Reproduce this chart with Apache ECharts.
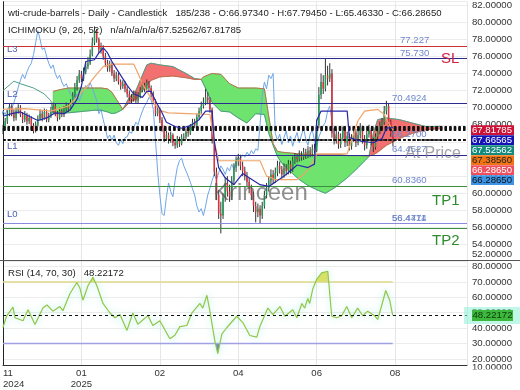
<!DOCTYPE html>
<html><head><meta charset="utf-8">
<script src="https://cdn.jsdelivr.net/npm/echarts/dist/echarts.min.js"></script>
<style>html,body{margin:0;padding:0;background:#fff}#c{width:520px;height:390px}</style>
</head><body><div id="c"></div><script>
const FONT = "'Liberation Sans', Arial, sans-serif";
const FS = 9.6;
// ---- x axis tick labels (one every TICK_STEP bars) ----
const tickLabels = ['11\n2024', '01\n2025', '02', '04', '06', '08'];
const TICK_STEP = 36;
// ---- candles (bar index = array index) ----
const C = [
67.6,68.4,69.3,70.1,69.4,68.8,69.6,
70.0,69.2,68.6,69.1,68.4,68.8,67.9,67.3,
68.0,68.7,69.3,68.8,69.5,68.6,69.0,69.7,70.2,69.3,68.8,69.6,
69.2,69.8,70.2,69.9,70.6,71.4,72.4,
73.2,73.9,73.4,74.2,74.8,75.2,
76.2,77.6,79.0,78.0,76.8,
77.0,76.0,75.2,74.6,75.0,74.0,73.4,
73.8,73.0,72.5,72.8,72.2,71.6,
71.2,71.0,71.6,70.8,71.4,
72.0,72.6,72.2,72.9,72.3,71.6,
70.8,69.3,69.8,68.6,67.6,66.4,66.8,
66.2,66.8,65.9,65.6,66.3,65.8,66.5,
66.6,67.2,67.0,67.7,68.3,68.0,68.9,69.6,70.2,
70.6,71.2,70.9,69.8,
66.2,62.5,59.8,57.6,57.4,59.5,61.2,60.2,59.6,61.5,63.0,
63.8,64.1,63.2,62.6,62.0,61.3,60.5,
59.8,58.5,57.8,58.2,57.4,
58.5,59.8,60.6,61.5,62.2,61.6,62.4,63.2,62.8,
62.2,63.0,62.6,63.4,62.8,63.8,64.2,
64.0,64.5,64.2,64.8,64.4,65.0,64.6,65.2,65.0,
68.0,71.5,73.0,72.2,73.8,73.4,74.0,
67.0,
66.2,66.9,65.7,66.5,67.3,65.9,66.7,65.5,66.4,
67.1,65.9,66.8,67.6,66.3,65.6,66.9,67.4,66.1,65.4,
66.6,67.2,67.9,68.3,
69.6,70.2,68.4,
66.9734,66.2865];
const H = [
68.0,68.8,69.7,70.5,70.4,69.8,70.0,
70.4,70.3,69.5,69.6,69.4,69.2,69.0,68.2,
68.4,69.1,69.8,69.6,69.9,69.8,69.4,70.1,70.6,70.5,69.6,70.0,
69.9,70.2,70.6,70.5,71.0,71.8,72.9,
73.7,74.4,74.3,74.7,75.3,75.9,
76.8,78.2,79.5,79.2,78.2,
77.6,77.3,76.4,75.6,75.5,75.3,74.4,
74.2,74.1,73.3,73.2,73.1,72.5,
72.0,71.6,72.0,71.9,71.8,
72.4,73.0,72.9,73.3,73.1,72.6,
71.9,71.0,70.2,70.0,68.9,67.9,67.3,
67.1,67.2,67.0,66.3,66.7,66.6,66.9,
67.0,67.6,67.6,68.1,68.7,68.7,69.3,70.0,70.7,
71.2,72.2,71.8,71.2,
70.0,66.4,63.0,60.4,59.0,60.0,61.8,62.0,61.0,62.0,63.5,
64.3,64.6,64.5,63.7,63.1,62.5,61.8,
61.0,60.2,59.0,58.8,58.6,
59.0,60.3,61.2,62.0,62.8,62.7,63.0,63.8,63.7,
63.2,63.5,63.4,63.9,63.8,64.3,64.7,
64.6,65.0,64.9,65.3,65.2,65.5,65.4,65.7,65.8,
68.6,72.4,74.0,73.8,75.7,74.9,75.2,
74.5,
67.6,67.5,67.2,67.0,67.8,67.6,67.2,67.0,66.9,
67.8,67.5,67.4,68.2,67.9,66.8,67.3,68.0,67.7,66.5,
67.0,67.7,68.4,68.8,
70.2,70.8,70.5,
68.6,67.7945];
const L = [
66.9,67.3,68.1,69.0,69.0,68.4,68.5,
69.3,68.9,68.2,68.3,68.0,68.1,67.5,67.0,
67.1,67.8,68.5,68.4,68.6,68.3,68.3,68.8,69.4,69.0,68.4,68.6,
68.9,68.9,69.5,69.5,69.7,70.4,71.2,
72.0,72.9,73.0,73.1,73.9,74.5,
75.0,76.0,77.3,77.6,76.4,
76.3,75.6,74.8,74.2,74.2,73.7,73.0,
73.1,72.7,72.1,72.2,71.8,71.2,
70.8,70.5,70.7,70.5,70.5,
71.1,71.8,71.8,72.0,71.9,71.2,
70.4,69.0,69.0,68.2,67.2,66.0,66.1,
65.8,65.9,65.5,65.2,65.3,65.4,65.6,
66.1,66.3,66.6,66.8,67.4,67.6,67.8,68.6,69.3,
69.9,70.3,70.4,69.4,
65.8,62.0,59.2,57.0,55.3,57.0,59.0,59.6,59.0,59.2,61.0,
62.5,63.2,62.7,62.0,61.5,60.7,60.0,
59.2,57.8,56.6,57.2,56.5,
57.0,58.2,59.4,60.2,61.0,61.1,61.2,62.0,62.3,
61.7,61.8,62.1,62.2,62.3,62.5,63.4,
63.6,63.7,63.8,63.9,64.0,64.1,64.2,64.3,64.6,
64.8,67.6,71.0,71.6,71.9,72.6,73.0,
66.5,
65.7,65.8,65.2,65.3,66.1,65.4,65.5,65.0,65.1,
66.0,65.4,65.6,66.4,65.8,65.0,65.2,66.5,65.6,64.8,
65.1,66.3,66.9,67.5,
68.0,69.2,68.0,
66.6,65.4633];
const FIRST_OPEN = 67.3;
const O = [FIRST_OPEN].concat(C.slice(0, -1));   // each open = previous close
const CHIKOU_SHIFT = 26;
// ---- ichimoku lines: [bar, value] ----
const tenkan = [[0,69.0],[4,69.3],[8,69.5],[12,69.0],[16,68.5],[20,68.8],[24,69.4],[28,69.3],[31,69.8],[34,71.0],[36,72.5],[38,75.4],[42,75.6],[44,76.4],[46,77.0],[48,76.4],[50,75.4],[52,74.6],[55,73.4],[57,72.6],[60,71.6],[64,71.2],[66,71.9],[68,71.9],[70,70.8],[73,69.4],[75,68.3],[79,67.8],[82,67.6],[86,67.9],[90,68.6],[93,69.6],[96,69.6],[97,66.0],[99,63.0],[102,61.8],[106,61.0],[110,62.3],[113,61.8],[118,61.0],[122,60.8],[125,61.3],[130,62.2],[135,63.3],[140,63.0],[143,63.4],[144,68.5],[146,69.6],[158,69.6],[159,66.5],[164,66.1],[170,65.9],[174,66.4],[176,67.6],[179,67.67]];
const kijun = [[0,69.8],[10,69.9],[22,69.6],[30,70.2],[35,71.5],[38,72.3],[42,73.6],[46,74.8],[50,75.1],[60,75.1],[62,74.0],[64,72.8],[67,71.5],[70,70.3],[73,69.6],[76,69.4],[85,69.3],[95,69.2],[97,66.0],[99,63.8],[118,63.8],[121,62.0],[125,61.6],[135,61.6],[138,62.2],[141,63.0],[144,64.6],[158,64.6],[160,66.2],[163,68.5],[166,69.6],[172,69.8],[175,69.2],[177,68.2],[179,67.39]];
const spanAPre = [[0,72.0],[5,73.1],[8,72.8],[14,72.3],[19,71.6],[22,70.8],[23,69.3]];
const cloudX = [23,26,30,34,38,42,45,48,50,52,55,58,61,64,66,68,72,78,84,88,91,92,96,100,104,108,112,116,120,122,124,126,128,132,136,140,145,148,152,155,158,163,168,170,172,176,182,188,194,198,201];
const spanB  = [71.9,72.1,72.3,72.3,72.3,72.3,72.3,72.2,71.8,71.0,69.8,70.6,71.0,72.0,72.6,73.2,73.6,73.7,73.5,73.3,73.3,73.6,74.0,73.9,72.8,72.3,72.3,72.3,72.2,69.0,65.8,64.9,64.8,64.7,64.6,64.5,64.5,64.5,64.5,64.5,64.4,64.4,64.35,64.5,64.8,65.6,66.4,67.0,67.4,67.5,67.53];
const spanA  = [69.3,69.3,69.4,69.5,69.6,69.7,69.7,69.5,69.3,69.4,69.8,71.2,72.0,73.8,75.0,75.2,75.0,74.8,74.0,73.4,73.3,72.8,70.6,69.6,69.5,68.8,68.2,69.3,69.2,67.0,65.6,64.3,63.5,62.5,61.6,60.9,60.3,60.0,60.6,61.2,61.8,63.0,64.3,67.0,68.6,68.8,68.6,68.2,67.8,67.8,67.82];
// ---- RSI: [bar, value] ----
const rsi = [[0,40.4],[1.7,48],[4.6,53.6],[5.5,46.7],[9.2,44.8],[11.5,51.9],[14.7,42.3],[18.3,53],[20.2,55],[22.9,51],[26.1,54],[27.5,51.3],[30.7,62.3],[33.9,69.6],[35.3,66],[36.7,58.1],[39,67.5],[41.3,73],[43.1,67.5],[45.9,56],[49.1,49.8],[51.4,46.7],[53.7,48.8],[56.9,38.5],[59.6,49.8],[61.9,42.5],[66.5,48.1],[68.8,41.7],[72,44.8],[76.6,33.1],[78.9,35.4],[81.2,41],[84.4,41.7],[86.7,49.8],[90.4,56],[91.7,53],[93.6,61.3],[95,50.9],[97.2,32.1],[98.6,23.4],[100.5,36.3],[102.8,40.4],[107.3,47.7],[110.1,43.6],[113.3,35.2],[116.5,34.2],[117.9,41],[121.6,53],[123.9,48.8],[127.1,54],[129.4,47.7],[133,51.9],[134.9,46.7],[137.2,56],[138.5,53],[139.9,59.2],[140.8,56],[142.2,65.4],[144,71.7],[146.3,75.9],[149.1,76.9],[150.9,47.7],[153.2,46.7],[155.5,48],[157.8,54],[160.1,46.7],[162.8,53],[165.1,48],[167.4,51],[170.6,48],[172,45.6],[173.9,55],[175.7,64.4],[177.5,58.1],[178.9,48.22172]];
const RSI_HI = 70, RSI_LO = 30, RSI_LAST = 48.22172;
// ---- levels ----
const levelValues = [77.227, 75.730, 70.4924, 64.4527, 60.836, 56.4711, 56.4474, 55.88];
const levelTexts  = ['77.227','75.730','70.4924','64.4527','60.8360','56.4711','56.4474',''];
const levelTags   = ['', 'L3', 'L2', 'L1', '', 'L0', '', ''];
const atPrice = 66.27, atPriceText = '66.2700';
const priceLines = [67.81785, 67.66565, 67.52562, 67.38560, 66.2865];
const boxTexts = ['67.81785','67.66565','67.52562','67.38560','66.28650','66.28650'];
const header1 = 'wti-crude-barrels - Daily - Candlestick   185/238 - O:66.97340 - H:67.79450 - L:65.46330 - C:66.28650';
const header2 = 'ICHIMOKU (9, 26, 52)   n/a/n/a/n/a/67.52562/67.81785';
const rsiTitle = 'RSI (14, 70, 30)   48.22172';

// ---- styles ----
const levelColors = ['#d23030','#2b2b8f','#2b2b8f','#2b2b8f','#3c8f3c','#2b2b8f','#8a8ae0','#3c8f3c'];
const boxBg = ['#cc1236','#1414b4','#138a7c','#f07412','#f0505e','#3b94e6'];
const boxFg = ['#fff','#fff','#fff','#222','#fff','#111'];

function cloudPolys(xs, up, lo){
  const X=[],U=[],D=[];
  for(let k=0;k<xs.length;k++){
    X.push(xs[k]);U.push(up[k]);D.push(lo[k]);
    if(k<xs.length-1){
      const d0=up[k]-lo[k], d1=up[k+1]-lo[k+1];
      if(d0*d1<0){const t=d0/(d0-d1);X.push(xs[k]+t*(xs[k+1]-xs[k]));const vc=lo[k]+t*(lo[k+1]-lo[k]);U.push(vc);D.push(vc);}
    }
  }
  const runs=[];
  for(let j=0;j<X.length-1;j++){
    const s=Math.sign((U[j]+U[j+1])-(D[j]+D[j+1]));
    const last=runs[runs.length-1];
    if(last&&last.s===s) last.b=j+1; else runs.push({s,a:j,b:j+1});
  }
  return runs.filter(r=>r.s!==0).map(r=>{const pts=[];for(let i=r.a;i<=r.b;i++)pts.push([X[i],U[i]]);for(let i=r.b;i>=r.a;i--)pts.push([X[i],D[i]]);return {s:r.s,pts};});
}
function zonePolys(pts, lvl, dir){
  const X=[],V=[];
  for(let k=0;k<pts.length;k++){
    X.push(pts[k][0]);V.push(pts[k][1]);
    if(k<pts.length-1){
      const d0=pts[k][1]-lvl,d1=pts[k+1][1]-lvl;
      if(d0*d1<0){const t=d0/(d0-d1);X.push(pts[k][0]+t*(pts[k+1][0]-pts[k][0]));V.push(lvl);}
    }
  }
  const polys=[];let cur=null;
  for(let j=0;j<X.length-1;j++){
    const inside=dir*((V[j]+V[j+1])/2-lvl)>0;
    if(inside){ if(!cur){cur=[[X[j],V[j]]];} cur.push([X[j+1],V[j+1]]); }
    else if(cur){ polys.push(cur);cur=null; }
  }
  if(cur)polys.push(cur);
  return polys.map(p=>p.concat([[p[p.length-1][0],lvl],[p[0][0],lvl]]));
}
const clouds = cloudPolys(cloudX, spanB, spanA);
const rsiHiZones = zonePolys(rsi, RSI_HI, 1);
const rsiLoZones = zonePolys(rsi, RSI_LO, -1);

const chart = echarts.init(document.getElementById('c'), null, {renderer:'canvas'});
const XMAX = 213;
const gridLine = {show:true, lineStyle:{color:'#e6e6e6', width:1}};
const xBase = {type:'value', min:0, max:XMAX, interval:TICK_STEP, axisTick:{show:false}, splitLine:gridLine};
const option = {
  animation:false,
  grid:[{left:3, top:0, width:464, height:261.7},{left:3, top:261, width:464, height:108}],
  xAxis:[
    Object.assign({gridIndex:0, axisLine:{show:false}, axisLabel:{show:false}}, xBase),
    Object.assign({gridIndex:1, axisLine:{show:true, lineStyle:{color:'#333', width:1}},
      axisLabel:{show:true, color:'#333', fontSize:FS, fontFamily:FONT, lineHeight:11, margin:3, alignMinLabel:'left', showMaxLabel:false,
        formatter:v=>{const k=Math.round(v/TICK_STEP);return (Math.abs(v-k*TICK_STEP)<1e-6 && tickLabels[k])?tickLabels[k]:'';}}}, xBase)
  ],
  yAxis:[
    {type:'value', gridIndex:0, position:'right', min:52, max:82.39, interval:2,
      axisLine:{show:true, lineStyle:{color:'#222'}}, axisTick:{show:false}, splitLine:{show:true, lineStyle:{color:'#ececec'}},
      axisLabel:{color:'#333', fontSize:FS, fontFamily:FONT, margin:5, showMinLabel:false,
        formatter:v=>(Math.abs(v/2-Math.round(v/2))<1e-6 && v>52.5)?v.toFixed(5):''}},
    {type:'value', gridIndex:1, position:'right', min:16.06, max:83.56, splitNumber:7,
      axisLine:{show:true, lineStyle:{color:'#222'}}, axisTick:{show:false}, splitLine:{show:true, lineStyle:{color:'#ececec'}},
      axisLabel:{color:'#333', fontSize:FS, fontFamily:FONT, margin:5,
        formatter:v=>(Math.abs(v/10-Math.round(v/10))<1e-6 && v>=20 && v<=80)?v.toFixed(5):''}}
  ],
  series:[
    {type:'custom', name:'cloud', xAxisIndex:0, yAxisIndex:0, z:1, silent:true, data:[[0,60]], encode:{x:0,y:1},
      renderItem:(params,api)=>({type:'group', children:clouds.map(p=>({type:'polygon',
        shape:{points:p.pts.map(pt=>api.coord(pt))},
        style:{fill:p.s>0?'#6ee46e':'#f27070', stroke:p.s>0?'#55c455':'#dd5a5a', lineWidth:0.6}}))})},
    {type:'line', name:'levels', xAxisIndex:0, yAxisIndex:0, z:2, data:[[0,null]], symbol:'none', silent:true, lineStyle:{opacity:0},
      markLine:{symbol:['none','none'], silent:true, animation:false, label:{show:false},
        data:levelValues.map((v,i)=>({yAxis:v, lineStyle:{color:levelColors[i], width:1.2, type:'solid'}}))}},
    {type:'line', name:'chikou', xAxisIndex:0, yAxisIndex:0, z:3, symbol:'none', silent:true, clip:true,
      data:C.map((c,i)=>[i-CHIKOU_SHIFT,c]).filter(d=>d[0]>=-1), lineStyle:{color:'#6ea6e6', width:1}},
    {type:'line', name:'spanA', xAxisIndex:0, yAxisIndex:0, z:3, symbol:'none', silent:true,
      data:spanAPre.concat(cloudX.map((x,i)=>[x,spanA[i]]).slice(1)), lineStyle:{color:'#4f9e86', width:1}},
    {type:'line', name:'spanB', xAxisIndex:0, yAxisIndex:0, z:3, symbol:'none', silent:true,
      data:cloudX.map((x,i)=>[x,spanB[i]]), lineStyle:{color:'#b9734f', width:1}},
    {type:'custom', name:'candles', xAxisIndex:0, yAxisIndex:0, z:4, silent:true,
      data:C.map((c,i)=>[i,O[i],c,L[i],H[i]]), encode:{x:0,y:[1,2,3,4]},
      renderItem:(params,api)=>{
        const x=api.value(0),o=api.value(1),c=api.value(2),l=api.value(3),h=api.value(4);
        const pO=api.coord([x,o]),pC=api.coord([x,c]),pL=api.coord([x,l]),pH=api.coord([x,h]);
        const w=1.5, up=c>=o;
        return {type:'group', children:[
          {type:'line', shape:{x1:pH[0],y1:pH[1],x2:pL[0],y2:pL[1]}, style:{stroke:'#333', lineWidth:1}},
          {type:'rect', shape:{x:pO[0]-w/2, y:Math.min(pO[1],pC[1]), width:w, height:Math.max(1,Math.abs(pO[1]-pC[1]))}, style:{fill:up?'#1f9d55':'#e0303c'}}
        ]};
      }},
    {type:'line', name:'kijun', xAxisIndex:0, yAxisIndex:0, z:5, symbol:'none', silent:true, data:kijun, lineStyle:{color:'#f0a46a', width:1.2}},
    {type:'line', name:'tenkan', xAxisIndex:0, yAxisIndex:0, z:5, symbol:'none', silent:true, data:tenkan, lineStyle:{color:'#2828a8', width:1.2}},
    {type:'line', name:'prices', xAxisIndex:0, yAxisIndex:0, z:6, data:[[0,null]], symbol:'none', silent:true, lineStyle:{opacity:0},
      markLine:{symbol:['none','none'], silent:true, animation:false, label:{show:false},
        data:priceLines.map(v=>({yAxis:v, lineStyle:{color:'#111', width:2, type:[2.4,2.2]}})).concat([{yAxis:atPrice, lineStyle:{color:'#111', width:1.6, type:[3,2]}}])}},
    // RSI panel
    {type:'custom', name:'rsiZones', xAxisIndex:1, yAxisIndex:1, z:2, silent:true, data:[[0,50]], encode:{x:0,y:1},
      renderItem:(params,api)=>({type:'group', children:
        rsiHiZones.map(p=>({type:'polygon', shape:{points:p.map(pt=>api.coord(pt))}, style:{fill:'#e2e05a'}})).concat(
        rsiLoZones.map(p=>({type:'polygon', shape:{points:p.map(pt=>api.coord(pt))}, style:{fill:'#6a6ad0'}})))})},
    {type:'line', name:'rsi70', xAxisIndex:1, yAxisIndex:1, z:3, symbol:'none', silent:true,
      data:[[rsi[0][0],RSI_HI],[rsi[rsi.length-1][0],RSI_HI]], lineStyle:{color:'#e2d98a', width:1.5}},
    {type:'line', name:'rsi30', xAxisIndex:1, yAxisIndex:1, z:3, symbol:'none', silent:true,
      data:[[rsi[0][0],RSI_LO],[rsi[rsi.length-1][0],RSI_LO]], lineStyle:{color:'#a0a0e6', width:1.5}},
    {type:'line', name:'rsi', xAxisIndex:1, yAxisIndex:1, z:4, symbol:'none', silent:true, data:rsi,
      lineStyle:{color:'#92c646', width:1.2, shadowBlur:7, shadowColor:'rgba(140,235,215,0.9)'},
      markLine:{symbol:['none','none'], silent:true, animation:false, label:{show:false},
        data:[{yAxis:RSI_LAST, lineStyle:{color:'#111', width:1, type:[3,3]}}]}}
  ]
};
chart.setOption(option);

const py = v => chart.convertToPixel({yAxisIndex:0}, v);
const ry = v => chart.convertToPixel({yAxisIndex:1}, v);
const T = (x,y,text,o,z)=>({type:'text', x, y, z:(z||110), silent:true,
  style:Object.assign({text, fontFamily:FONT, fontSize:FS, fill:'#222', textVerticalAlign:'middle'}, o||{})});
const g = [];
g.push(T(8,13,header1));
g.push(T(8,30,header2));
g.push(T(8,273,rsiTitle));
g.push({type:'line', z:100, silent:true, shape:{x1:0,y1:260.5,x2:520,y2:260.5}, style:{stroke:'#555', lineWidth:1}});
levelValues.forEach((v,i)=>{
  const y=py(v);
  if(levelTexts[i]) g.push(T(levelTexts[i].length>6?392:400, y-0.5, levelTexts[i], {fill:'#6f86cc', textVerticalAlign:'bottom'}));
  if(levelTags[i]) g.push(T(7, y-4, levelTags[i], {fill:'#4c5fb3', textVerticalAlign:'bottom'}));
});
g.push(T(392, py(atPrice)-0.5, atPriceText, {fill:'#6f86cc', textVerticalAlign:'bottom'}));
g.push(T(441, py(levelValues[0])+6, 'SL', {fill:'#d42040', fontSize:15, textVerticalAlign:'top'}));
g.push(T(432, py(levelValues[4])+7, 'TP1', {fill:'#2e8b2e', fontSize:15, textVerticalAlign:'top'}));
g.push(T(432, py(levelValues[7])+4.5, 'TP2', {fill:'#2e8b2e', fontSize:15, textVerticalAlign:'top'}));
g.push(T(405, py(atPrice)+6, 'At Price', {fill:'rgba(130,130,140,0.75)', fontSize:16, textVerticalAlign:'top'}));
g.push(T(213, 205, 'Krinceen', {fill:'rgba(85,85,85,0.65)', fontSize:24, textVerticalAlign:'bottom'}));
// right-axis price tags (stacked)
const top0 = py(priceLines[0]) - 1;
boxTexts.forEach((t,i)=>{
  g.push({type:'rect', z:120, silent:true, shape:{x:471, y:top0+i*10, width:43, height:9.6}, style:{fill:boxBg[i]}});
  g.push(T(472, top0+i*10+5, t, {fill:boxFg[i]}, 130));
});
g.push(T(472, 254, '52.00000', {fill:'#333'}));
// RSI tag
const rY = ry(RSI_LAST);
g.push({type:'rect', z:120, silent:true, shape:{x:464, y:rY-8.5, width:56, height:17}, style:{fill:'rgba(140,240,215,0.55)'}});
g.push({type:'rect', z:121, silent:true, shape:{x:472, y:rY-5.5, width:41, height:11}, style:{fill:'#3db83d'}});
g.push(T(472.5, rY, RSI_LAST.toFixed(5), {fill:'#0c3a0c'}, 130));
g.push(T(472, 367, '10.00000', {fill:'#333'}));
g.push({type:'rect', z:125, silent:true, shape:{x:468, y:369.5, width:52, height:21}, style:{fill:'#fff'}});
chart.setOption({graphic:g});
</script></body></html>
